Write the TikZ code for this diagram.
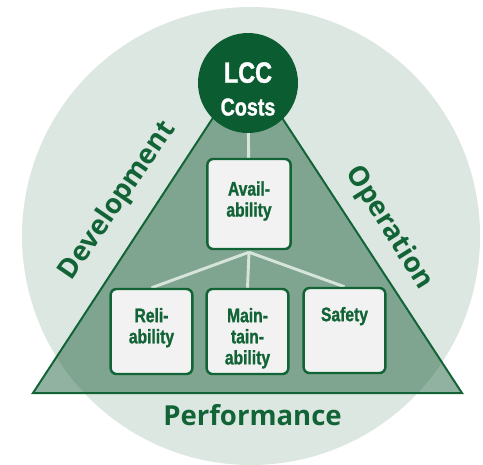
\documentclass[tikz,border=0pt]{standalone}
\usepackage{fontspec}
\setmainfont{Open Sans}
\newfontfamily\condfont[FakeStretch=0.8, BoldFeatures={FakeBold=1.2}]{Liberation Sans}
\usetikzlibrary{positioning}

\definecolor{lccgreen}{RGB}{12,92,50}
\definecolor{textgreen}{RGB}{18,100,55}
\definecolor{ringfill}{RGB}{220,231,225}
\definecolor{trifill}{RGB}{35,101,65}
\definecolor{boxfill}{RGB}{242,242,242}
\definecolor{linkcol}{RGB}{214,228,219}

\pgfdeclarelayer{bg}
\pgfdeclarelayer{links}
\pgfsetlayers{bg,links,main}

\tikzset{
  area/.style={font=\bfseries\fontsize{23.5}{26}\selectfont, text=textgreen, inner sep=0pt},
  box/.style={draw=textgreen, line width=2.1pt, fill=boxfill, rounded corners=5pt,
              minimum width=2.45cm, minimum height=2.55cm, inner sep=0pt},
  boxtext/.style={font=\condfont\bfseries\fontsize{16.7}{18}\selectfont, text=textgreen,
                  align=center, inner sep=0pt},
  link/.style={draw=linkcol, line width=2.5pt}
}

\begin{document}
\begin{tikzpicture}[x=0.03cm,y=-0.03cm]
                \useasboundingbox (0,0) rectangle (483,464);

                % ring and triangle
                \begin{pgfonlayer}{bg}
                \fill[ringfill] (251,236) circle [radius=229];
                \draw[fill=trifill, fill opacity=0.5, draw=textgreen, line width=1.7pt, line join=miter]
                    (33,393) -- (462,393) -- (247.5,65) -- cycle;
                \end{pgfonlayer}

                \node[circle, fill=lccgreen, minimum size=3cm, inner sep=0pt] (lcc) at (248,83) {};
                \node[text=white, align=center, inner sep=0pt, font=\condfont\bfseries\fontsize{25}{27}\selectfont]
                    (lcc-t) at (248,89) {LCC\\[1pt]{\fontsize{21}{21}\selectfont Costs}};

                \node[box, minimum width=2.5cm, minimum height=2.7cm] (avail) at (249,204) {};
                \node[box] (rel) at (151.5,331.5) {};
                \node[box] (maint) at (247.5,331.5) {};
                \node[box] (safe) at (344.5,330.5) {};

                \node[boxtext, below=0.7cm of avail.north] (avail-t) {Avail-\\ability};
                \node[boxtext, below=0.6cm of rel.north] (rel-t) {Reli-\\ability};
                \node[boxtext, below=0.6cm of maint.north] (maint-t) {Main-\\tain-\\ability};
                \node[boxtext, below=0.6cm of safe.north] (safe-t) {Safety};

                \coordinate[below=0.06cm of avail.south] (hub);

                \begin{pgfonlayer}{links}
                \draw[link] (lcc) -- (avail);
                \draw[link] (hub) -- (rel.north);
                \draw[link] (hub) -- (maint.north);
                \draw[link] (hub) -- (safe.north);
                \end{pgfonlayer}

                \node[area, rotate=55.6] (dev) at (118,201) {Development};
                \node[area, rotate=-58] (op) at (389,228) {Operation};
                \node[area] (perf) at (252.5,415) {Performance};

            \end{tikzpicture}
\end{document}
